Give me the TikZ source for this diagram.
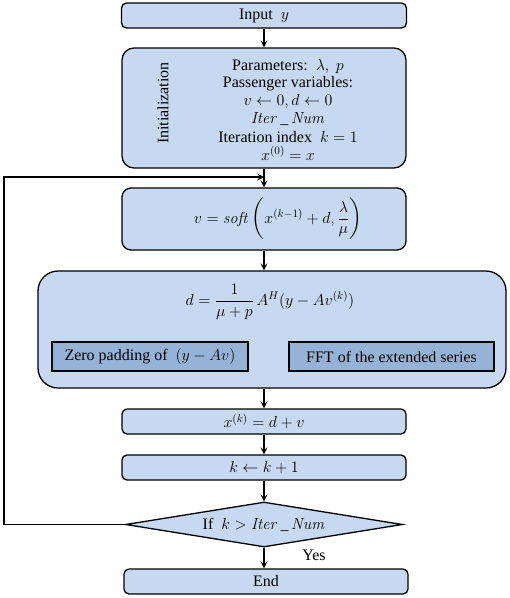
\documentclass[tikz,border=0pt]{standalone}
\usepackage{fix-cm}
\usepackage{amsmath}
\usepackage[no-math]{fontspec}
\setmainfont{Liberation Serif}
\usetikzlibrary{shapes.geometric,arrows.meta}
\definecolor{boxblue}{RGB}{198,217,240}
\definecolor{subblue}{RGB}{149,179,215}
\newcommand\fsz{\fontsize{16}{19}\selectfont}
\tikzset{
  every node/.style={font=\fsz},
  flowbox/.style={draw=black, line width=1.3pt, fill=boxblue, rounded corners=5pt, inner sep=0pt},
  subbox/.style={draw=black, line width=1.6pt, fill=subblue, inner sep=0pt, minimum height=29pt},
  txt/.style={inner sep=0pt, anchor=base},
  conn/.style={draw=black, line width=1.1pt, -{Stealth[length=7pt,width=7pt,inset=3pt]}}
}
\begin{document}
\begin{tikzpicture}[x=1pt,y=-1pt]
\useasboundingbox (0,0) rectangle (510,598);
% main boxes
\node[flowbox, minimum width=285pt, minimum height=25pt] (in) at (264,15.5) {Input\ \ $y$};
\node[flowbox, rounded corners=12pt, minimum width=284pt, minimum height=120pt] (init) at (264,108) {};
\node[rotate=90, inner sep=0pt] (initlab) at (163,103) {Initialization};
\node[txt] (l1) at (288,70) {Parameters:\ \ $\lambda,\ p$};
\node[txt] (l2) at (288,87.5) {Passenger variables:};
\node[txt] (l3) at (288,105.5) {$v\leftarrow 0, d\leftarrow 0$};
\node[txt] (l4) at (288,123.5) {$\mathit{Iter}\,\_\,\mathit{Num}$};
\node[txt] (l5) at (288,142.5) {Iteration index\ \ $k=1$};
\node[txt] (l6) at (288,160.5) {$x^{(0)}=x$};
\node[flowbox, rounded corners=9pt, minimum width=284pt, minimum height=62pt] (vb) at (264,219) {};
\node[inner sep=0pt] (vf) at (278,219) {$v = \mathit{soft}\left(x^{(k-1)} + d, \dfrac{\lambda}{\mu}\right)$};
\node[flowbox, rounded corners=20pt, minimum width=468pt, minimum height=117pt] (db) at (272,329.5) {};
\node[inner sep=0pt] (df) at (270,302) {$d = \dfrac{1}{\mu+p}\,A^{H}(y - Av^{(k)})$};
\node[subbox, minimum width=196pt] (zp) at (150,356.5) {Zero padding of\ \ $(y-Av)$};
\node[subbox, minimum width=205pt] (fft) at (391.5,356.5) {FFT of the extended series};
\node[flowbox, minimum width=284pt, minimum height=25pt] (xk) at (264,421.5) {$x^{(k)} = d + v$};
\node[flowbox, minimum width=284pt, minimum height=25pt] (kb) at (264,467.5) {$k\leftarrow k+1$};
\node[diamond, draw=black, line width=1.3pt, fill=boxblue, inner sep=0pt, aspect=6.1,
      minimum width=277pt, minimum height=45pt] (dia) at (264,524.5) {If\ \ $k > \mathit{Iter}\,\_\,\mathit{Num}$};
\node[inner sep=0pt] (yes) at (314,555) {Yes};
\node[flowbox, minimum width=284pt, minimum height=25pt] (endb) at (266,581.5) {End};
% connectors
\draw[conn] (in.south) -- (init.north);
\draw[conn] (init.south) -- (vb.north);
\draw[conn] (vb.south) -- (vb.south |- db.north);
\draw[conn] (vb.south |- db.south) -- (xk.north);
\draw[conn] (xk.south) -- (kb.north);
\draw[conn] (kb.south) -- (dia.north);
\draw[conn] (dia.south) -- (dia.south |- endb.north);
\coordinate (fb) at (264,177);
\coordinate (corner) at (4,524.5);
\draw[conn] (dia.west) -- (corner) |- (fb);
\end{tikzpicture}
\end{document}
